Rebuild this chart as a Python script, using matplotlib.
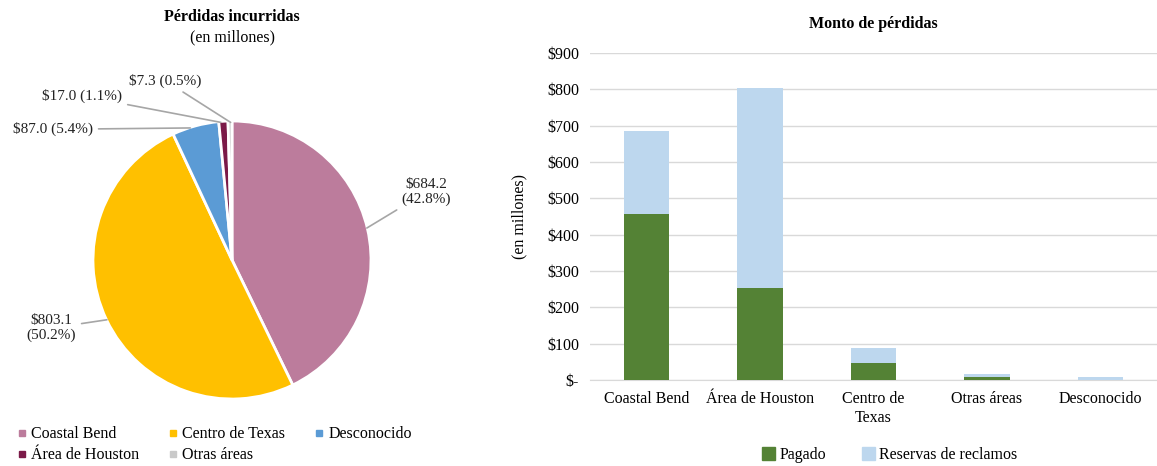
import matplotlib.pyplot as plt
from matplotlib.lines import Line2D
from matplotlib.patches import Patch
from matplotlib.ticker import FuncFormatter

plt.rcParams['font.family'] = ['Liberation Serif', 'DejaVu Serif']
plt.rcParams['font.size'] = 11

# Incurred losses by region (millions)
pie_labels = ['Coastal Bend', 'Centro de Texas', 'Desconocido', 'Área de Houston', 'Otras áreas']
pie_values = [684.2, 803.1, 87.0, 17.0, 7.3]
pie_colors = ['#BC7C9C', '#FFC000', '#5B9BD5', '#7B1A48', '#C9C9C9']

# Loss amounts by region: paid vs claim reserves (millions)
bar_regions = ['Coastal Bend', 'Área de Houston', 'Centro de\nTexas', 'Otras áreas', 'Desconocido']
paid = [456.0, 254.0, 46.0, 8.5, 0.8]
reserves = [228.2, 549.1, 41.0, 8.5, 6.5]

W, H = 1157, 466
fig = plt.figure(figsize=(W / 100, H / 100), dpi=100)

# ---- pie ----
cx, cy, r = 232, 260, 139
ax1 = fig.add_axes([(cx - r) / W, (H - cy - r) / H, 2 * r / W, 2 * r / H])
wedges, _ = ax1.pie(pie_values, colors=pie_colors, startangle=90, counterclock=False,
                    wedgeprops=dict(edgecolor='white', linewidth=2))
ax1.set_xlim(-1, 1)
ax1.set_ylim(-1, 1)

total = sum(pie_values)
# label text position, alignment, and leader line anchor (data coords)
label_pos = [((1.40, 0.49), 'center', (0.97, 0.23)),
             ((-1.30, -0.49), 'center', (-0.90, -0.43)),
             ((-1.00, 0.94), 'right', (-0.30, 0.95)),
             ((-0.79, 1.18), 'right', (-0.08, 0.99)),
             ((-0.22, 1.29), 'right', (-0.01, 0.99))]
for w, v, (txy, ha, exy) in zip(wedges, pie_values, label_pos):
    pct = v / total * 100
    if ha == 'center':
        s = f'${v:.1f}\n({pct:.1f}%)'
    else:
        s = f'${v:.1f} ({pct:.1f}%)'
    ax1.annotate(s, xy=exy, xytext=txy, ha=ha, va='center', fontsize=11,
                 color='#222222', annotation_clip=False,
                 arrowprops=dict(arrowstyle='-', color='#A6A6A6', lw=1.2,
                                 shrinkA=2, shrinkB=0))

fig.text(cx / W, 1 - 17 / H, 'Pérdidas incurridas', ha='center', va='center',
         fontsize=11.5, fontweight='bold')
fig.text(cx / W, 1 - 37 / H, '(en millones)', ha='center', va='center', fontsize=11.5)

order = [0, 3, 1, 4, 2]
handles = [Line2D([], [], marker='s', linestyle='', markersize=5,
                  color=pie_colors[i]) for i in order]
fig.legend(handles, [pie_labels[i] for i in order], ncol=3,
           loc='upper left', bbox_to_anchor=(4 / W, 1 - 412 / H), frameon=False,
           handlelength=0.4, handletextpad=0.4, columnspacing=1.9,
           labelspacing=0.3, fontsize=11.5)

# ---- stacked bars ----
ax2 = fig.add_axes([590 / W, (H - 380) / H, (W - 590) / W, 327 / H])
x = range(len(bar_regions))
ax2.bar(x, paid, width=0.4, color='#548235', zorder=3)
ax2.bar(x, reserves, width=0.4, bottom=paid, color='#BDD7EE', zorder=3)
ax2.set_ylim(0, 900)
ax2.set_xlim(-0.5, len(bar_regions) - 0.5)
ax2.set_yticks(range(0, 901, 100))
ax2.yaxis.set_major_formatter(FuncFormatter(lambda v, p: '$-' if v == 0 else f'${v:.0f}'))
ax2.set_xticks(list(x))
ax2.set_xticklabels(bar_regions, fontsize=11.5)
ax2.tick_params(axis='both', length=0, labelsize=11.5)
ax2.tick_params(axis='x', pad=8)
ax2.tick_params(axis='y', pad=8)
ax2.grid(axis='y', color='#D9D9D9', lw=1, zorder=0)
for s in ['top', 'right', 'left']:
    ax2.spines[s].set_visible(False)
ax2.spines['bottom'].set_color('#D9D9D9')
ax2.set_ylabel('(en millones)', fontsize=11.5)
ax2.yaxis.set_label_coords(-0.11, 0.5)
ax2.set_title('Monto de pérdidas', fontsize=11.5, fontweight='bold', pad=18)

fig.legend([Patch(color='#548235'), Patch(color='#BDD7EE')], ['Pagado', 'Reservas de reclamos'],
           ncol=2, loc='center', bbox_to_anchor=(890 / W, 1 - 455 / H), frameon=False,
           handlelength=0.8, handleheight=0.8, handletextpad=0.3, columnspacing=2.2,
           fontsize=11.5)

fig.savefig('out.png', dpi=100)
